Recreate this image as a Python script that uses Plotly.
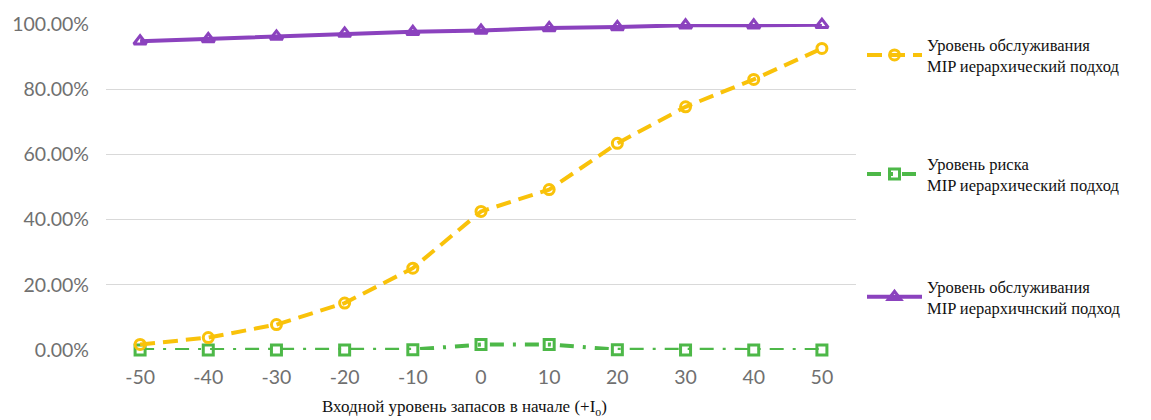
import plotly.graph_objects as go

# Входной уровень запасов (смещение от начального уровня)
x_levels = [-50, -40, -30, -20, -10, 0, 10, 20, 30, 40, 50]

# Уровень обслуживания, MIP иерархический подход (жёлтая линия)
service_hier = [0.017, 0.038, 0.078, 0.144, 0.251, 0.425, 0.492, 0.634, 0.746, 0.830, 0.925]
# Уровень риска, MIP иерархический подход (зелёная линия)
risk_hier = [0.0, 0.0, 0.0, 0.0, 0.001, 0.017, 0.017, 0.001, 0.0, 0.0, 0.0]
# Уровень обслуживания, второй вариант (фиолетовая линия)
service_alt = [0.947, 0.954, 0.962, 0.971, 0.976, 0.980, 0.988, 0.991, 0.996, 0.996, 0.998]

y_ticks = [0, 0.2, 0.4, 0.6, 0.8, 1.0]
y_tick_text = ["0.00%", "20.00%", "40.00%", "60.00%", "80.00%", "100.00%"]

names = [
    "Уровень обслуживания<br>MIP иерархический подход",
    "Уровень риска<br>MIP иерархический подход",
    "Уровень обслуживания<br>MIP иерархичнский подход",
]

YELLOW = "#F9C20A"
GREEN = "#4DB848"
PURPLE = "#8B42BE"

SERIF = "Liberation Serif, Times New Roman, DejaVu Serif, serif"

fig = go.Figure()

fig.add_trace(go.Scatter(
    x=x_levels, y=service_alt, name=names[2], mode="lines+markers",
    line=dict(color=PURPLE, width=4),
    marker=dict(symbol="triangle-up-open", size=11, color=PURPLE, line=dict(width=3)),
    cliponaxis=False, legend="legend3", showlegend=True,
))
fig.add_trace(go.Scatter(
    x=x_levels, y=risk_hier, name=names[1], mode="lines+markers",
    line=dict(color=GREEN, width=4, dash="14px,9px,3px,9px"),
    marker=dict(symbol="square-open", size=10, color=GREEN, line=dict(width=3)),
    cliponaxis=False, legend="legend2", showlegend=True,
))
fig.add_trace(go.Scatter(
    x=x_levels, y=service_hier, name=names[0], mode="lines+markers",
    line=dict(color=YELLOW, width=4, dash="15px,8px"),
    marker=dict(symbol="circle-open", size=10, color=YELLOW, line=dict(width=3)),
    cliponaxis=False, legend="legend", showlegend=True,
))

legend_font = dict(family=SERIF, size=16.5, color="#111111")
legend_common = dict(
    xref="paper", yref="paper", x=1.008, xanchor="left", yanchor="middle",
    font=legend_font, bgcolor="rgba(0,0,0,0)", itemwidth=55, visible=True,
)

fig.update_layout(
    width=1151, height=420,
    margin=dict(l=103, r=295, t=22, b=70),
    paper_bgcolor="white", plot_bgcolor="white",
    showlegend=True,
    font=dict(family=SERIF),
    legend=dict(y=0.905, **legend_common),
    legend2=dict(y=0.54, **legend_common),
    legend3=dict(y=0.163, **legend_common),
    xaxis=dict(
        range=[-55, 55], tickmode="array", tickvals=x_levels,
        ticktext=[str(v) for v in x_levels],
        showgrid=False, zeroline=False, showline=False,
        tickfont=dict(family="Lato", size=19.5, color="#707070"),
        ticklabelstandoff=13,
    ),
    yaxis=dict(
        range=[0, 1], tickmode="array", tickvals=y_ticks, ticktext=y_tick_text,
        showgrid=True, gridcolor="#D9D9D9", gridwidth=1,
        zeroline=False, showline=False,
        tickfont=dict(family="Lato", size=19.5, color="#707070"),
        ticklabelstandoff=16,
    ),
    annotations=[dict(
        text="Входной уровень запасов в начале (+I<sub>o</sub>)",
        xref="paper", yref="paper", x=0.478, y=-0.177,
        xanchor="center", yanchor="middle", showarrow=False,
        font=dict(family=SERIF, size=17, color="#111111"),
    )],
)

fig.write_html("out.html")
